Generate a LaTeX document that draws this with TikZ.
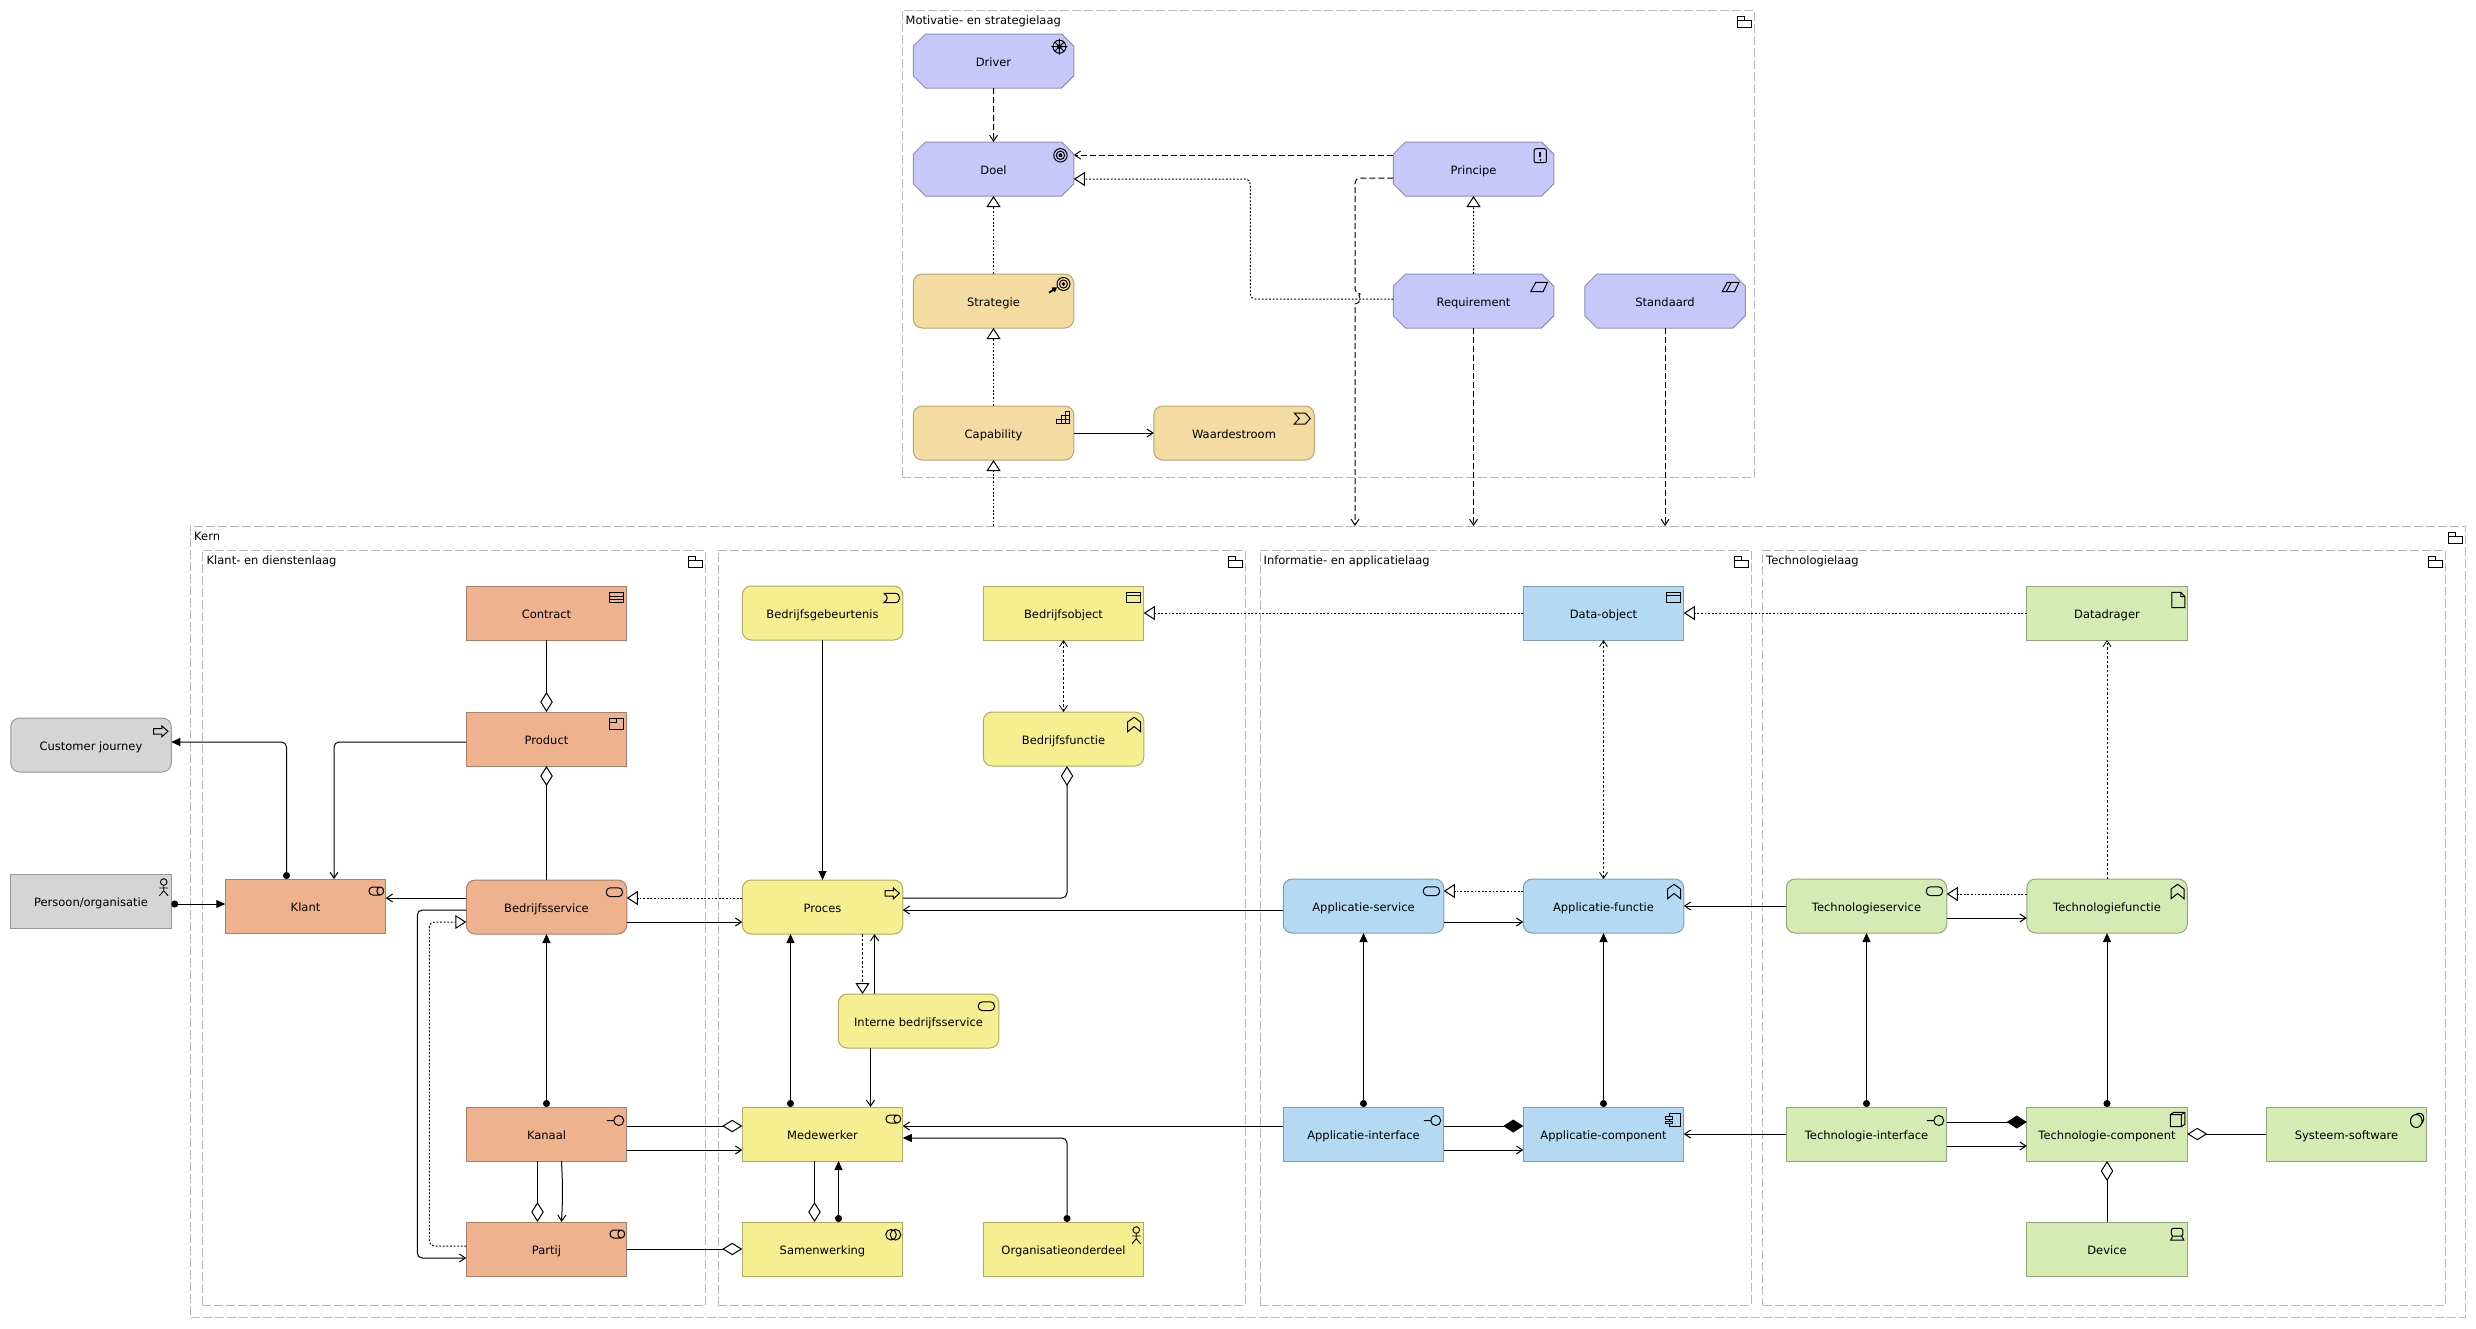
\documentclass[tikz,border=0pt]{standalone}
\usepackage{fontspec}
\setmainfont{DejaVu Sans}
\usepackage{xcolor}
\usepackage{tikz}
\usetikzlibrary{positioning,shapes,arrows.meta}
\definecolor{motivationfill}{HTML}{C7C7FA}
\definecolor{motivationline}{HTML}{8F8FB8}
\definecolor{strategyfill}{HTML}{F3DBA2}
\definecolor{strategyline}{HTML}{B8A474}
\definecolor{customerfill}{HTML}{EFB28F}
\definecolor{customerline}{HTML}{A87F68}
\definecolor{businessfill}{HTML}{F6EF92}
\definecolor{businessline}{HTML}{B0AA62}
\definecolor{applicationfill}{HTML}{B3DAF2}
\definecolor{applicationline}{HTML}{7F9DB0}
\definecolor{technologyfill}{HTML}{D4EBB4}
\definecolor{technologyline}{HTML}{90A67E}
\definecolor{externalfill}{HTML}{D5D5D5}
\definecolor{externalline}{HTML}{999999}
\definecolor{groupline}{HTML}{B8B8B8}
\tikzstyle{element}=[rectangle, draw, line width=1pt, minimum width=160.5pt, minimum height=54pt,
        inner sep=0pt, outer sep=0pt, text centered, text height=10.4pt, text depth=0pt, font=\fontsize{11.5}{14}\selectfont]
\tikzstyle{rounded}=[element, rounded corners=9pt]
\tikzstyle{chamfered}=[element, chamfered rectangle, chamfered rectangle xsep=7pt, chamfered rectangle ysep=7pt]
\tikzstyle{motivation}=[chamfered, draw=motivationline, fill=motivationfill]
\tikzstyle{strategy}=[rounded, draw=strategyline, fill=strategyfill]
\tikzstyle{customer}=[element, draw=customerline, fill=customerfill]
\tikzstyle{customerround}=[rounded, draw=customerline, fill=customerfill]
\tikzstyle{business}=[element, draw=businessline, fill=businessfill]
\tikzstyle{businessround}=[rounded, draw=businessline, fill=businessfill]
\tikzstyle{application}=[element, draw=applicationline, fill=applicationfill]
\tikzstyle{applicationround}=[rounded, draw=applicationline, fill=applicationfill]
\tikzstyle{technology}=[element, draw=technologyline, fill=technologyfill]
\tikzstyle{technologyround}=[rounded, draw=technologyline, fill=technologyfill]
\tikzstyle{external}=[element, draw=externalline, fill=externalfill]
\tikzstyle{externalround}=[rounded, draw=externalline, fill=externalfill]
\tikzstyle{group}=[rectangle, draw=groupline, line width=1pt, dash pattern=on 9pt off 3pt, inner sep=0pt, outer sep=0pt]
\tikzstyle{grouptitle}=[anchor=west, inner sep=0pt, text height=8.5pt, text depth=0pt, font=\fontsize{11.5}{14}\selectfont]
\tikzstyle{link}=[line width=1pt, rounded corners=5pt]
\tikzstyle{flow}=[link, -{Straight Barb[length=6pt,width=8pt]}]
\tikzstyle{triggering}=[link, -{Triangle[length=9pt,width=8pt]}]
\tikzstyle{assignment}=[link, {Circle[length=7pt]}-{Triangle[length=9pt,width=8pt]}]
\tikzstyle{influence}=[flow, dash pattern=on 6pt off 3pt]
\tikzstyle{access}=[link, line width=.8pt, dash pattern=on 2.5pt off 2pt, {Straight Barb[length=6pt,width=8pt]}-{Straight Barb[length=6pt,width=8pt]}]
\tikzstyle{oneaccess}=[link, line width=.8pt, dash pattern=on 2.5pt off 2pt, -{Straight Barb[length=6pt,width=8pt]}]
\tikzstyle{realization}=[link, dash pattern=on 1.8pt off 1.8pt, -{Triangle[fill=white,length=11pt,width=14pt]}]
\tikzstyle{aggregation}=[link, -{Diamond[fill=white,length=20pt,width=12.5pt]}]
\tikzstyle{composition}=[link, -{Diamond[length=20pt,width=13pt]}]
\tikzstyle{symbol}=[draw, line width=1pt]
\tikzset{iconat/.style={shift={(#1.north -| #1.east)}}}
\newcommand{\foldericon}[1]{\draw[symbol, iconat=#1] (-17,17) -- (-17,6) -- (-10,6) -- (-10,10) -- (-3,10) -- (-3,17) -- cycle (-17,10) -- (-10,10);}
\newcommand{\drivericon}[1]{\draw[symbol, iconat=#1] (-14.3,12.7) circle[radius=6.5pt] (-22.3,12.7) -- (-6.3,12.7) (-14.3,4.7) -- (-14.3,20.7) (-19,8) -- (-9.6,17.4) (-19,17.4) -- (-9.6,8); \fill[iconat=#1] (-14.3,12.7) circle[radius=2.2pt];}
\newcommand{\goalicon}[1]{\draw[symbol, iconat=#1] (-13.3,13.3) circle[radius=6.7pt] (-13.3,13.3) circle[radius=4.2pt]; \fill[iconat=#1] (-13.3,13.3) circle[radius=2pt];}
\newcommand{\strategyicon}[1]{\draw[symbol, iconat=#1] (-10.3,10) circle[radius=6.5pt] (-10.3,10) circle[radius=4pt]; \fill[iconat=#1] (-10.3,10) circle[radius=1.8pt]; \draw[line width=1.8pt, -{Triangle[length=5pt,width=5.5pt]}, iconat=#1] (-24.7,18.7) -- (-16.5,13.2);}
\newcommand{\capabilityicon}[1]{\draw[symbol, line width=.9pt, iconat=#1] (-17,17.9) -- (-17,13.6) -- (-12.7,13.6) -- (-12.7,9.3) -- (-8.4,9.3) -- (-8.4,5) -- (-4.1,5) -- (-4.1,17.9) -- cycle (-12.7,13.6) -- (-4.1,13.6) (-8.4,9.3) -- (-4.1,9.3) (-12.7,13.6) -- (-12.7,17.9) (-8.4,9.3) -- (-8.4,17.9);}
\newcommand{\streamicon}[1]{\draw[symbol, iconat=#1] (-20,7) -- (-9,7) -- (-4,12.5) -- (-9,18) -- (-20,18) -- (-15,12.5) -- cycle;}
\newcommand{\principleicon}[1]{\draw[symbol, rounded corners=2pt, iconat=#1] (-19.7,6.7) rectangle (-7.3,20.7); \draw[line width=1.6pt, iconat=#1] (-13.5,9.5) -- (-13.5,15.2); \fill[iconat=#1] (-13.5,18) circle[radius=1pt];}
\newcommand{\requirementicon}[1]{\draw[symbol, iconat=#1] (-23,17.7) -- (-18,8.3) -- (-6.3,8.3) -- (-10.7,17.7) -- cycle;}
\newcommand{\standardicon}[1]{\requirementicon{#1} \draw[symbol, iconat=#1] (-19,17.7) -- (-14,8.3);}
\newcommand{\contracticon}[1]{\draw[symbol, iconat=#1] (-17.5,6.7) rectangle (-3.5,16.7) (-17.5,10) -- (-3.5,10) (-17.5,13.4) -- (-3.5,13.4);}
\newcommand{\producticon}[1]{\draw[symbol, iconat=#1] (-17.5,6.7) rectangle (-3.5,17) (-17.5,10.5) -- (-10.5,10.5) -- (-10.5,6.7);}
\newcommand{\objecticon}[1]{\draw[symbol, iconat=#1] (-17,6) rectangle (-3.2,16.7) (-17,9.7) -- (-3.2,9.7);}
\newcommand{\roleicon}[1]{\draw[symbol, iconat=#1] (-13,8) -- (-5.5,8) .. controls (-1,8) and (-1,16) .. (-5.5,16) -- (-13,16) .. controls (-18,16) and (-18,8) .. (-13,8) (-5.5,8) .. controls (-10,8) and (-10,16) .. (-5.5,16);}
\newcommand{\serviceicon}[1]{\draw[symbol, rounded corners=4pt, iconat=#1] (-20.5,7.8) rectangle (-4.2,16.6);}
\newcommand{\eventicon}[1]{\draw[symbol, iconat=#1] (-19,7.3) -- (-8,7.3) .. controls (-1.5,7.3) and (-1.5,16.7) .. (-8,16.7) -- (-19,16.7) .. controls (-14.5,14.5) and (-14.5,9.5) .. (-19,7.3);}
\newcommand{\functionicon}[1]{\draw[symbol, iconat=#1] (-16.2,19.7) -- (-16.2,10) -- (-9.7,5.3) -- (-3.2,10) -- (-3.2,19.7) -- (-9.7,14.5) -- cycle;}
\newcommand{\processicon}[1]{\draw[symbol, iconat=#1] (-17.7,10.7) -- (-9.3,10.7) -- (-9.3,8) -- (-3.3,13.3) -- (-9.3,18.7) -- (-9.3,16) -- (-17.7,16) -- cycle;}
\newcommand{\actoricon}[1]{\draw[symbol, line width=.9pt, iconat=#1] (-7.5,8) circle[radius=3.3pt] (-7.5,11.3) -- (-7.5,16.7) (-11.8,14) -- (-3.2,14) (-11.8,21.7) -- (-7.5,16.7) -- (-3.2,21.7);}
\newcommand{\interfaceicon}[1]{\draw[symbol, iconat=#1] (-20,13.5) -- (-13,13.5) (-8,13.5) circle[radius=5pt];}
\newcommand{\collaborationicon}[1]{\draw[symbol, iconat=#1] (-11.7,12.7) circle[radius=5.3pt] (-7.3,12.7) circle[radius=5.3pt];}
\newcommand{\componenticon}[2]{\draw[symbol, iconat=#1] (-14.3,6.3) rectangle (-3.7,19.7); \draw[symbol, fill=#2, iconat=#1] (-17.9,9.5) rectangle (-11.7,12.3) (-17.9,14) rectangle (-11.7,16.8);}
\newcommand{\nodeicon}[1]{\draw[symbol, iconat=#1] (-17,7.7) rectangle (-6,19.7) (-17,7.7) -- (-13.5,5.3) -- (-2.5,5.3) -- (-2.5,17.3) -- (-6,19.7) (-6,7.7) -- (-2.5,5.3);}
\newcommand{\softwareicon}[1]{\draw[symbol, iconat=#1] (-10.5,14) ellipse[x radius=5.8pt, y radius=6.5pt] (-11.5,7.6) .. controls (-7,4.5) and (-2,7) .. (-3.2,12.5) .. controls (-3.6,15) and (-4.5,16) .. (-5.5,17);}
\newcommand{\deviceicon}[1]{\draw[symbol, rounded corners=1.5pt, iconat=#1] (-16,6.3) rectangle (-4.5,14); \draw[symbol, iconat=#1] (-14.5,14) -- (-16.5,18) -- (-3.5,18) -- (-5.5,14);}
\newcommand{\artifacticon}[1]{\draw[symbol, iconat=#1] (-15.5,6.3) -- (-6.5,6.3) -- (-2.3,10.5) -- (-2.3,21.7) -- (-15.5,21.7) -- cycle (-6.5,6.3) -- (-6.5,10.5) -- (-2.3,10.5);}

\begin{document}
\begin{tikzpicture}[x=1pt, y=-1pt]
        \useasboundingbox (0,0) rectangle (2476,1328);

        \node (MotivatieLaag) [group, minimum width=852pt, minimum height=467pt] at (1328,243.5) {};
        \node (Kern) [group, minimum width=2274.5pt, minimum height=791pt] at (1327.75,921.5) {};
        \node (KlantLaag) [group, minimum width=503.5pt, minimum height=755pt] at (453.75,927.5) {};
        \node (BedrijfsLaag) [group, minimum width=527pt, minimum height=755pt] at (981.5,927.5) {};
        \node (InformatieLaag) [group, minimum width=491pt, minimum height=755pt] at (1505.5,927.5) {};
        \node (TechnologieLaag) [group, minimum width=682.5pt, minimum height=755pt] at (2103.75,927.5) {};
        \node (MotivatieTitle) [grouptitle] at ([xshift=3.5pt,yshift=-10pt]MotivatieLaag.north west) {Motivatie- en strategielaag};
        \node (KernTitle) [grouptitle] at ([xshift=3.5pt,yshift=-10pt]Kern.north west) {Kern};
        \node (KlantTitle) [grouptitle] at ([xshift=4.5pt,yshift=-10pt]KlantLaag.north west) {Klant- en dienstenlaag};
        \node (InformatieTitle) [grouptitle] at ([xshift=3.5pt,yshift=-10pt]InformatieLaag.north west) {Informatie- en applicatielaag};
        \node (TechnologieTitle) [grouptitle] at ([xshift=3.5pt,yshift=-10pt]TechnologieLaag.north west) {Technologielaag};

        \node (Driver) [motivation] at (993.5,61) {Driver};
        \node (Doel) [motivation, below=54pt of Driver] {Doel};
        \node (Strategie) [strategy, below=78pt of Doel] {Strategie};
        \node (Capability) [strategy, below=78pt of Strategie] {Capability};
        \node (Waardestroom) [strategy, right=80pt of Capability] {Waardestroom};
        \node (Principe) [motivation, right=319.5pt of Doel] {Principe};
        \node (Requirement) [motivation, below=78pt of Principe] {Requirement};
        \node (Standaard) [motivation, right=31pt of Requirement] {Standaard};

        \node (Klant) [customer] at (305.5,906) {Klant};
        \node (Persoon) [external, left=54pt of Klant, yshift=5pt] {Persoon/organisatie};
        \node (Journey) [externalround, above=102pt of Persoon] {Customer journey};
        \node (Bedrijfsservice) [customerround, right=80.5pt of Klant, yshift=-1pt] {Bedrijfsservice};
        \node (Product) [customer, above=114pt of Bedrijfsservice] {Product};
        \node (Contract) [customer, above=72pt of Product] {Contract};
        \node (Kanaal) [customer, below=173pt of Bedrijfsservice] {Kanaal};
        \node (Partij) [customer, below=61pt of Kanaal] {Partij};

        \node (Proces) [businessround, right=115.5pt of Bedrijfsservice] {Proces};
        \node (Gebeurtenis) [businessround, above=240pt of Proces] {Bedrijfsgebeurtenis};
        \node (Bedrijfsobject) [business, right=80.5pt of Gebeurtenis] {Bedrijfsobject};
        \node (Bedrijfsfunctie) [businessround, below=72pt of Bedrijfsobject] {Bedrijfsfunctie};
        \node (Interne) [businessround, below=60pt of Proces, xshift=96pt] {Interne bedrijfsservice};
        \node (Medewerker) [business, below=173pt of Proces] {Medewerker};
        \node (Samenwerking) [business, below=61pt of Medewerker] {Samenwerking};
        \node (Organisatie) [business, right=80.5pt of Samenwerking] {Organisatieonderdeel};

        \node (AppService) [applicationround, right=380.5pt of Proces, yshift=1pt] {Applicatie-service};
        \node (AppFunctie) [applicationround, right=79.5pt of AppService] {Applicatie-functie};
        \node (DataObject) [application, above=239pt of AppFunctie] {Data-object};
        \node (AppInterface) [application, below=174pt of AppService] {Applicatie-interface};
        \node (AppComponent) [application, below=174pt of AppFunctie] {Applicatie-component};

        \node (TechService) [technologyround, right=102.5pt of AppFunctie] {Technologieservice};
        \node (TechFunctie) [technologyround, right=80pt of TechService] {Technologiefunctie};
        \node (Datadrager) [technology, above=239pt of TechFunctie] {Datadrager};
        \node (TechInterface) [technology, below=174pt of TechService] {Technologie-interface};
        \node (TechComponent) [technology, below=174pt of TechFunctie] {Technologie-component};
        \node (Software) [technology, right=79pt of TechComponent] {Systeem-software};
        \node (Device) [technology, below=61pt of TechComponent] {Device};

        \foldericon{MotivatieLaag} \foldericon{Kern} \foldericon{KlantLaag}
        \foldericon{BedrijfsLaag} \foldericon{InformatieLaag} \foldericon{TechnologieLaag}
        \drivericon{Driver} \goalicon{Doel} \strategyicon{Strategie}
        \capabilityicon{Capability} \streamicon{Waardestroom}
        \principleicon{Principe} \requirementicon{Requirement} \standardicon{Standaard}
        \processicon{Journey} \actoricon{Persoon} \roleicon{Klant}
        \contracticon{Contract} \producticon{Product} \serviceicon{Bedrijfsservice}
        \interfaceicon{Kanaal} \roleicon{Partij}
        \eventicon{Gebeurtenis} \objecticon{Bedrijfsobject} \functionicon{Bedrijfsfunctie}
        \processicon{Proces} \serviceicon{Interne} \roleicon{Medewerker}
        \collaborationicon{Samenwerking} \actoricon{Organisatie}
        \serviceicon{AppService} \functionicon{AppFunctie} \objecticon{DataObject}
        \interfaceicon{AppInterface} \componenticon{AppComponent}{applicationfill}
        \serviceicon{TechService} \functionicon{TechFunctie} \artifacticon{Datadrager}
        \interfaceicon{TechInterface} \nodeicon{TechComponent}
        \softwareicon{Software} \deviceicon{Device}

        \coordinate (JumpTop) at (1355,294);
        \draw[influence] (Driver) -- (Doel);
        \draw[influence] ([yshift=14pt]Principe.west) -- ([yshift=14pt]Doel.east);
        \draw[influence] [rounded corners=5pt] ([yshift=-9pt]Principe.west) -| (JumpTop) [sharp corners] arc[start angle=90, end angle=-90, radius=5pt] -- (JumpTop |- Kern.north);
        \draw[influence] (Requirement) -- (Requirement |- Kern.north);
        \draw[influence] (Standaard) -- (Standaard |- Kern.north);
        \draw[realization] ([yshift=2pt]Requirement.west) -- ++(-143,0) |- ([yshift=-10pt]Doel.east);
        \draw[realization] (Requirement) -- (Principe);
        \draw[realization] (Strategie) -- (Doel);
        \draw[realization] (Capability) -- (Strategie);
        \draw[realization] (Capability |- Kern.north) -- (Capability);
        \draw[flow] (Capability) -- (Waardestroom);

        \draw[assignment] ([xshift=-19pt]Klant.north) |- ([yshift=3pt]Journey.east);
        \draw[flow] ([yshift=-3pt]Product.west) -| ([xshift=28.5pt]Klant.north);
        \draw[assignment] ([yshift=-3pt]Persoon.east) -- ([yshift=2pt]Klant.west);
        \draw[aggregation] (Contract) -- (Product);
        \draw[aggregation] (Bedrijfsservice) -- (Product);
        \draw[flow] ([yshift=9pt]Bedrijfsservice.west) -- ([yshift=8pt]Klant.east);
        \draw[realization] ([yshift=9pt]Proces.west) -- ([yshift=9pt]Bedrijfsservice.east);
        \draw[flow] ([yshift=-15pt]Bedrijfsservice.east) -- ([yshift=-15pt]Proces.west);
        \draw[flow] ([yshift=-3pt]Bedrijfsservice.west) -- ++(-49,0) |- ([yshift=-9pt]Partij.west);
        \draw[realization] ([yshift=3pt]Partij.west) -- ++(-37,0) |- ([yshift=-15pt]Bedrijfsservice.west);
        \draw[assignment] (Kanaal) -- (Bedrijfsservice);
        \draw[aggregation] ([yshift=8pt]Kanaal.east) -- ([yshift=8pt]Medewerker.west);
        \draw[flow] ([yshift=-16pt]Kanaal.east) -- ([yshift=-16pt]Medewerker.west);
        \draw[aggregation] ([xshift=-9pt]Kanaal.south) -- ([xshift=-9pt]Partij.north);
        \draw[flow] ([xshift=15pt]Kanaal.south) to[out=-87, in=87] ([xshift=15pt]Partij.north);
        \draw[aggregation] (Partij) -- (Samenwerking);

        \draw[triggering] (Gebeurtenis) -- (Proces);
        \draw[access] (Bedrijfsobject) -- (Bedrijfsfunctie);
        \draw[aggregation] ([yshift=9pt]Proces.east) -| ([xshift=3.5pt]Bedrijfsfunctie.south);
        \draw[flow] ([yshift=-4pt]AppService.west) -- ([yshift=-3pt]Proces.east);
        \draw[assignment] ([xshift=-32pt]Medewerker.north) -- ([xshift=-32pt]Proces.south);
        \draw[realization, dash pattern=on 2.5pt off 2pt] ([xshift=40pt]Proces.south) -- ([xshift=-56pt]Interne.north);
        \draw[flow] ([xshift=-44pt]Interne.north) -- ([xshift=52pt]Proces.south);
        \draw[flow] ([xshift=-48pt]Interne.south) -- ([xshift=48pt]Medewerker.north);
        \draw[flow] ([yshift=8pt]AppInterface.west) -- ([yshift=8pt]Medewerker.east);
        \draw[assignment] ([xshift=3.5pt]Organisatie.north) |- ([yshift=-4pt]Medewerker.east);
        \draw[aggregation] ([xshift=-8pt]Medewerker.south) -- ([xshift=-8pt]Samenwerking.north);
        \draw[assignment] ([xshift=16pt]Samenwerking.north) -- ([xshift=16pt]Medewerker.south);

        \draw[realization] (DataObject) -- (Bedrijfsobject);
        \draw[realization] (Datadrager) -- (DataObject);
        \draw[access] (DataObject) -- (AppFunctie);
        \draw[realization] ([yshift=15pt]AppFunctie.west) -- ([yshift=15pt]AppService.east);
        \draw[flow] ([yshift=-16pt]AppService.east) -- ([yshift=-16pt]AppFunctie.west);
        \draw[flow] (TechService) -- (AppFunctie);
        \draw[assignment] (AppInterface) -- (AppService);
        \draw[assignment] (AppComponent) -- (AppFunctie);
        \draw[composition] ([yshift=8pt]AppInterface.east) -- ([yshift=8pt]AppComponent.west);
        \draw[flow] ([yshift=-16pt]AppInterface.east) -- ([yshift=-16pt]AppComponent.west);
        \draw[flow] (TechInterface) -- (AppComponent);
        \draw[assignment] (TechInterface) -- (TechService);
        \draw[assignment] (TechComponent) -- (TechFunctie);
        \draw[realization] ([yshift=12pt]TechFunctie.west) -- ([yshift=12pt]TechService.east);
        \draw[flow] ([yshift=-12pt]TechService.east) -- ([yshift=-12pt]TechFunctie.west);
        \draw[composition] ([yshift=12pt]TechInterface.east) -- ([yshift=12pt]TechComponent.west);
        \draw[flow] ([yshift=-12pt]TechInterface.east) -- ([yshift=-12pt]TechComponent.west);
        \draw[aggregation] (Software) -- (TechComponent);
        \draw[aggregation] (Device) -- (TechComponent);
        \draw[oneaccess] (TechFunctie) -- (Datadrager);
      \end{tikzpicture}
\end{document}
